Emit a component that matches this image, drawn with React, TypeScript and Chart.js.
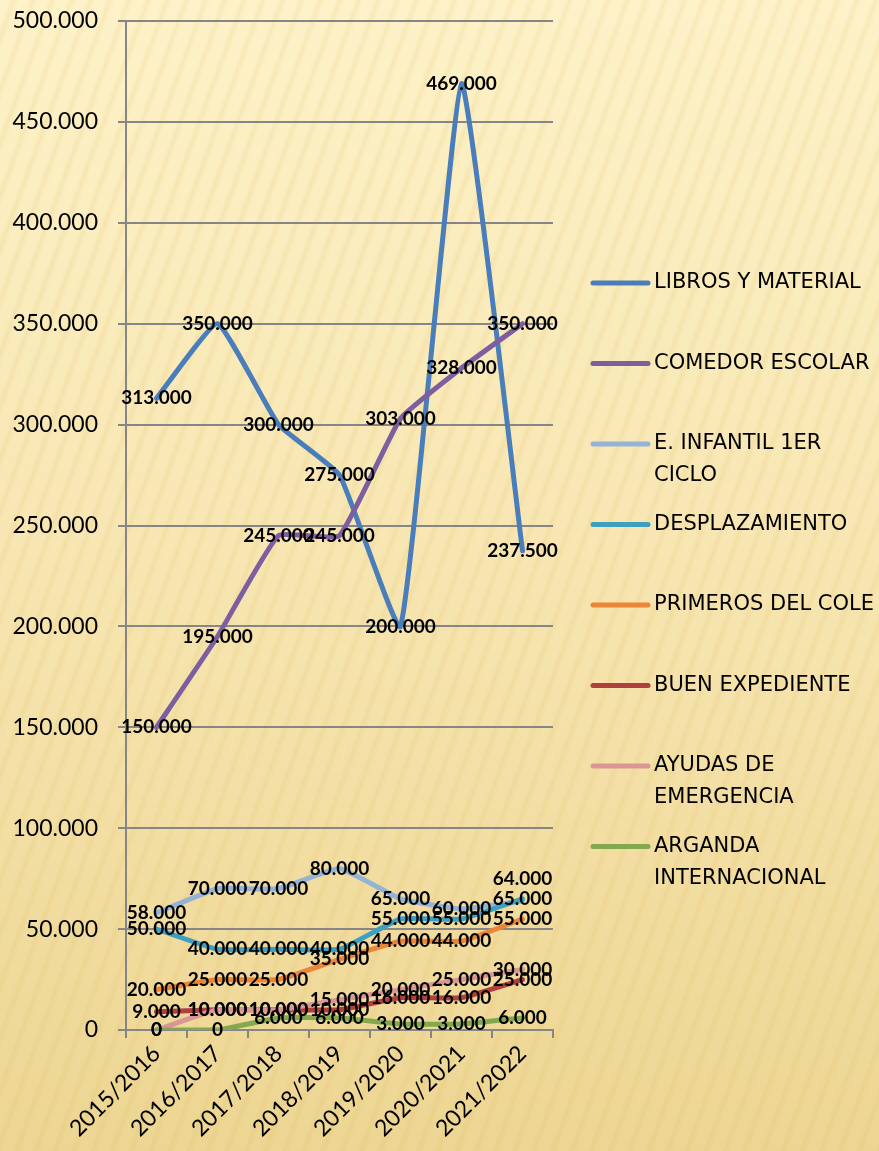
import { useEffect, useRef } from "react";
import { Chart, registerables } from "chart.js";

Chart.register(...registerables);

const categories = ["2015/2016", "2016/2017", "2017/2018", "2018/2019", "2019/2020", "2020/2021", "2021/2022"];

const libros = [313000, 350000, 300000, 275000, 200000, 469000, 237500];
const comedor = [150000, 195000, 245000, 245000, 303000, 328000, 350000];
const infantil = [58000, 70000, 70000, 80000, 65000, 60000, 64000];
const desplazamiento = [50000, 40000, 40000, 40000, 55000, 55000, 65000];
const primeros = [20000, 25000, 25000, 35000, 44000, 44000, 55000];
const buenExpediente = [9000, 10000, 10000, 10000, 16000, 16000, 25000];
const ayudas = [0, 10000, 10000, 15000, 20000, 25000, 30000];
const arganda = [0, 0, 6000, 6000, 3000, 3000, 6000];

const seriesValues = [libros, comedor, infantil, desplazamiento, primeros, buenExpediente, ayudas, arganda];

const legendLines = [
  ["LIBROS Y MATERIAL"],
  ["COMEDOR ESCOLAR"],
  ["E. INFANTIL 1ER", "CICLO"],
  ["DESPLAZAMIENTO"],
  ["PRIMEROS DEL COLE"],
  ["BUEN EXPEDIENTE"],
  ["AYUDAS DE", "EMERGENCIA"],
  ["ARGANDA", "INTERNACIONAL"],
];

const seriesColors = ["#4A7EBB", "#7D5FA0", "#95B3D7", "#3CA0C0", "#EC8537", "#B0403D", "#D99694", "#82A94E"];

const yMin = 0;
const yMax = 500000;
const yStep = 50000;

function fmt(v: number): string {
  if (v === 0) return "0";
  const s = Math.round(v).toString();
  return s.replace(/\B(?=(\d{3})+(?!\d))/g, ".");
}

const dataLabelPlugin = {
  id: "dataLabels",
  afterDatasetsDraw(chart: any) {
    const ctx = chart.ctx;
    const items: { x: number; y: number; v: number; j: number }[] = [];
    chart.data.datasets.forEach((ds: any, i: number) => {
      const meta = chart.getDatasetMeta(i);
      meta.data.forEach((pt: any, j: number) => {
        items.push({ x: pt.x, y: pt.y, v: ds.data[j], j });
      });
    });
    ctx.save();
    ctx.font = "bold 19px Lato";
    ctx.fillStyle = "#000";
    ctx.textAlign = "center";
    ctx.textBaseline = "middle";
    items.forEach((it) => {
      let y = it.y;
      const clash = items.some((o) => o !== it && o.j === it.j && o.v > it.v && Math.abs(o.y - it.y) < 4);
      if (clash) y -= 22;
      ctx.fillText(fmt(it.v), it.x, y);
    });
    ctx.restore();
  },
};

const legendPlugin = {
  id: "customLegend",
  afterDraw(chart: any) {
    const ctx = chart.ctx;
    const area = chart.chartArea;
    const x0 = area.right + 40;
    const swatch = 55;
    const tx = x0 + swatch + 6;
    const startY = 283;
    const step = 80.5;
    const lineH = 32;
    ctx.save();
    ctx.font = "21px 'DejaVu Sans'";
    ctx.fillStyle = "#000";
    ctx.textAlign = "left";
    ctx.textBaseline = "middle";
    legendLines.forEach((lines, i) => {
      const y = startY + i * step;
      ctx.strokeStyle = seriesColors[i];
      ctx.lineWidth = 5;
      ctx.lineCap = "round";
      ctx.beginPath();
      ctx.moveTo(x0, y);
      ctx.lineTo(x0 + swatch, y);
      ctx.stroke();
      lines.forEach((t, k) => ctx.fillText(t, tx, y + k * lineH));
    });
    ctx.restore();
  },
};

export default function App() {
  const ref = useRef<HTMLCanvasElement>(null);
  useEffect(() => {
    if (!ref.current) return;
    const chart = new Chart(ref.current, {
      type: "line",
      data: {
        labels: categories,
        datasets: seriesValues.map((vals, i) => ({
          label: legendLines[i].join(" "),
          data: vals,
          borderColor: seriesColors[i],
          backgroundColor: seriesColors[i],
          borderWidth: 5,
          pointRadius: 0,
          tension: 0.12,
          fill: false,
          borderCapStyle: "round" as const,
          borderJoinStyle: "round" as const,
          order: -i,
        })),
      },
      options: {
        responsive: false,
        animation: false,
        layout: { padding: { left: 0, right: 326, top: 21, bottom: 0 } },
        plugins: { legend: { display: false }, tooltip: { enabled: false } },
        scales: {
          x: {
            offset: true,
            grid: { display: true, drawOnChartArea: false, offset: true, tickLength: 8, color: "#868686", lineWidth: 2 },
            border: { display: true, color: "#868686", width: 2 },
            ticks: { maxRotation: 45, minRotation: 45, color: "#000", font: { family: "Lato", size: 23 }, padding: 2 },
            afterFit: (s: any) => {
              s.height = 121;
              s.paddingLeft = 0;
              s.paddingRight = 0;
              s.paddingTop = 0;
              s.paddingBottom = 0;
            },
          },
          y: {
            min: yMin,
            max: yMax,
            ticks: { stepSize: yStep, callback: (v: any) => fmt(Number(v)), color: "#000", font: { family: "Lato", size: 23 }, padding: 20 },
            grid: { color: "#868686", lineWidth: 2, tickLength: 8 },
            border: { display: true, color: "#868686", width: 2 },
            afterFit: (s: any) => {
              s.width = 126;
              s.paddingTop = 0;
              s.paddingBottom = 0;
              s.paddingLeft = 0;
              s.paddingRight = 0;
            },
          },
        },
      },
      plugins: [dataLabelPlugin, legendPlugin],
    });
    return () => chart.destroy();
  }, []);
  return (
    <div
      style={{
        position: "absolute",
        left: 0,
        top: 0,
        width: 879,
        height: 1151,
        background:
          "repeating-linear-gradient(110deg, rgba(255,255,255,0) 0px, rgba(255,255,255,0) 9px, rgba(214,170,70,0.12) 13px, rgba(255,255,255,0) 18px), linear-gradient(180deg, #FDF2C8 0%, #F8E7B4 45%, #EDD693 100%)",
      }}
    >
      <canvas ref={ref} width={879} height={1151} style={{ display: "block" }} />
    </div>
  );
}
